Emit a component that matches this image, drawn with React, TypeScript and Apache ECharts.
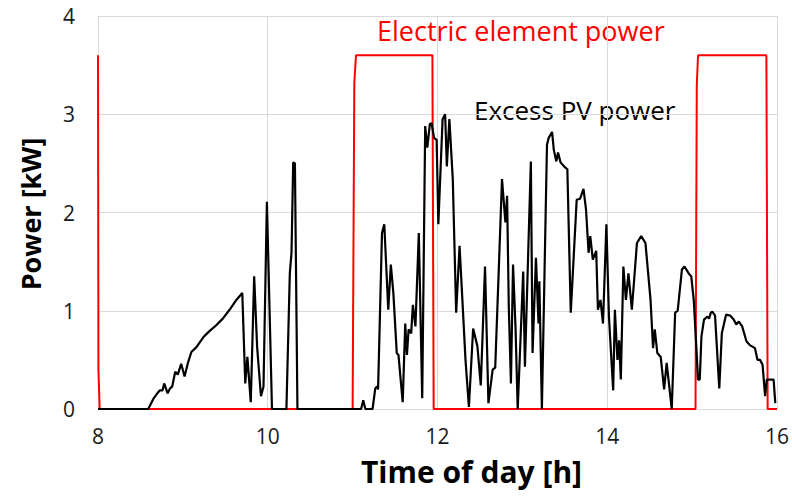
import React, { useEffect, useRef } from "react";
import * as echarts from "echarts";

// Excess PV power [kW] vs time of day [h]
const pvTime: number[] = [
  8.0, 8.59, 8.61, 8.65, 8.69, 8.73, 8.76, 8.78, 8.82, 8.85, 8.875, 8.91, 8.94, 8.98, 9.02, 9.06, 9.1, 9.16, 9.24, 9.31,
  9.39, 9.47, 9.55, 9.63, 9.7, 9.735, 9.76, 9.8, 9.84, 9.875, 9.92, 9.95, 9.99, 10.05, 10.22, 10.26, 10.28, 10.3, 10.32, 10.35,
  11.1, 11.125, 11.15, 11.235, 11.267, 11.287, 11.3, 11.346, 11.373, 11.42, 11.45, 11.48, 11.52, 11.54, 11.59, 11.62, 11.64, 11.66, 11.69, 11.71,
  11.74, 11.78, 11.82, 11.855, 11.88, 11.91, 11.93, 11.96, 11.99, 12.01, 12.06, 12.09, 12.11, 12.14, 12.18, 12.22, 12.26, 12.33, 12.37, 12.42,
  12.47, 12.51, 12.56, 12.6, 12.65, 12.68, 12.72, 12.76, 12.8, 12.82, 12.84, 12.865, 12.89, 12.92, 12.945, 13.01, 13.03, 13.1, 13.12, 13.16,
  13.19, 13.2, 13.23, 13.29, 13.31, 13.35, 13.37, 13.4, 13.42, 13.45, 13.49, 13.53, 13.57, 13.64, 13.68, 13.72, 13.75, 13.78, 13.8, 13.83,
  13.87, 13.89, 13.92, 13.95, 13.99, 14.02, 14.07, 14.09, 14.12, 14.14, 14.16, 14.19, 14.22, 14.25, 14.29, 14.35, 14.4, 14.45, 14.51, 14.54,
  14.56, 14.59, 14.63, 14.67, 14.7, 14.76, 14.8, 14.83, 14.88, 14.91, 14.96, 14.99, 15.02, 15.07, 15.09, 15.11, 15.14, 15.18, 15.2, 15.22,
  15.24, 15.27, 15.32, 15.35, 15.4, 15.45, 15.49, 15.52, 15.55, 15.59, 15.64, 15.68, 15.74, 15.77, 15.8, 15.83, 15.86, 15.88, 15.92, 15.96,
  15.98,
];
const pvPower: number[] = [
  0, 0, 0.03, 0.1, 0.15, 0.19, 0.19, 0.26, 0.16, 0.21, 0.23, 0.38, 0.35, 0.46, 0.33, 0.47, 0.58, 0.63, 0.73, 0.79,
  0.85, 0.92, 1.01, 1.11, 1.18, 0.26, 0.53, 0.07, 1.35, 0.63, 0.13, 0.23, 2.11, 0, 0, 1.38, 1.59, 2.51, 2.5, 0,
  0, 0.09, 0, 0, 0.21, 0.23, 0.2, 1.79, 1.88, 1.01, 1.47, 1.18, 0.57, 0.55, 0.07, 0.87, 0.55, 0.81, 0.77, 1.06,
  0.84, 1.79, 0.11, 2.88, 2.66, 2.9, 2.91, 2.76, 2.74, 1.88, 2.95, 3.0, 2.47, 2.95, 2.34, 0.98, 1.66, 0.5, 0.02, 0.82,
  0.64, 0.24, 1.45, 0.06, 0.4, 0.42, 1.37, 2.34, 1.9, 2.17, 1.04, 0.26, 1.47, 0.81, 0, 1.4, 0.43, 2.52, 0.57, 1.54,
  0.87, 1.3, 0, 2.69, 2.76, 2.82, 2.64, 2.52, 2.61, 2.51, 2.47, 2.44, 0.98, 2.13, 2.14, 2.24, 2.03, 1.59, 1.76, 1.52,
  1.61, 1.01, 1.11, 0.87, 1.88, 0.94, 0.19, 1.01, 0.5, 0.7, 0.3, 1.45, 1.11, 1.38, 1.01, 1.69, 1.76, 1.69, 1.11, 0.62,
  0.81, 0.57, 0.53, 0.2, 0.47, 0, 0.98, 1.0, 1.42, 1.45, 1.38, 1.35, 1.1, 0.3, 0.3, 0.74, 0.91, 0.94, 0.92, 0.98,
  0.99, 0.95, 0.21, 0.77, 0.96, 0.95, 0.91, 0.86, 0.89, 0.84, 0.69, 0.65, 0.62, 0.5, 0.5, 0.45, 0.13, 0.3, 0.3, 0.3,
  0.06,
];

// Electric element power [kW]
const elTime: number[] = [8.0, 8.005, 8.02, 11.0, 11.02, 11.04, 11.94, 11.955, 15.04, 15.055, 15.07, 15.875, 15.89, 16.0];
const elPower: number[] = [3.6, 0.4, 0, 0, 3.32, 3.6, 3.6, 0, 0, 3.3, 3.6, 3.6, 0, 0];

const xTicks = [8, 10, 12, 14, 16];
const yTicks = [0, 1, 2, 3, 4];

const FONT = "'Open Sans', 'Noto Sans', sans-serif";

export default function App() {
  const ref = useRef<HTMLDivElement>(null);
  useEffect(() => {
    if (!ref.current) return;
    const chart = echarts.init(ref.current, undefined, { renderer: "svg" });
    const pv = pvTime.map((t, i) => [t, pvPower[i]]);
    const el = elTime.map((t, i) => [t, elPower[i]]);
    chart.setOption({
      animation: false,
      backgroundColor: "#ffffff",
      grid: { left: 98, right: 14, top: 16, bottom: 90, containLabel: false },
      xAxis: {
        type: "value",
        min: xTicks[0],
        max: xTicks[xTicks.length - 1],
        interval: 2,
        axisLine: { show: false },
        axisTick: { show: false },
        axisLabel: { color: "#1a1a1a", fontSize: 21, fontFamily: FONT, margin: 16 },
        splitLine: { show: true, lineStyle: { color: "#d9d9d9", width: 1 } },
      },
      yAxis: {
        type: "value",
        min: yTicks[0],
        max: yTicks[yTicks.length - 1],
        interval: 1,
        axisLine: { show: false },
        axisTick: { show: false },
        axisLabel: { color: "#1a1a1a", fontSize: 21, fontFamily: FONT, margin: 23 },
        splitLine: { show: true, lineStyle: { color: "#d9d9d9", width: 1 } },
      },
      series: [
        {
          name: "Electric element power",
          type: "line",
          data: el,
          showSymbol: false,
          lineStyle: { color: "#ff0000", width: 2 },
          z: 2,
        },
        {
          name: "Excess PV power",
          type: "line",
          data: pv,
          showSymbol: false,
          lineStyle: { color: "#000000", width: 2.2 },
          z: 3,
        },
      ],
      graphic: [
        {
          type: "text",
          left: 377,
          top: 17,
          style: { text: "Electric element power", fill: "#ff0000", fontSize: 27, fontFamily: FONT },
        },
        {
          type: "text",
          left: 474,
          top: 97,
          style: { text: "Excess PV power", fill: "#000000", fontSize: 26, fontFamily: FONT },
        },
        {
          type: "text",
          left: 361,
          top: 456,
          style: { text: "Time of day [h]", fill: "#000000", fontSize: 30, fontWeight: "bold", fontFamily: FONT },
        },
        {
          type: "text",
          x: 30,
          y: 214,
          rotation: Math.PI / 2,
          style: {
            text: "Power [kW]",
            fill: "#000000",
            fontSize: 27,
            fontWeight: "bold",
            fontFamily: FONT,
            align: "center",
            verticalAlign: "middle",
          },
        },
      ],
    });
    return () => chart.dispose();
  }, []);
  return <div ref={ref} style={{ position: "fixed", left: 0, top: 0, width: 792, height: 499 }} />;
}
